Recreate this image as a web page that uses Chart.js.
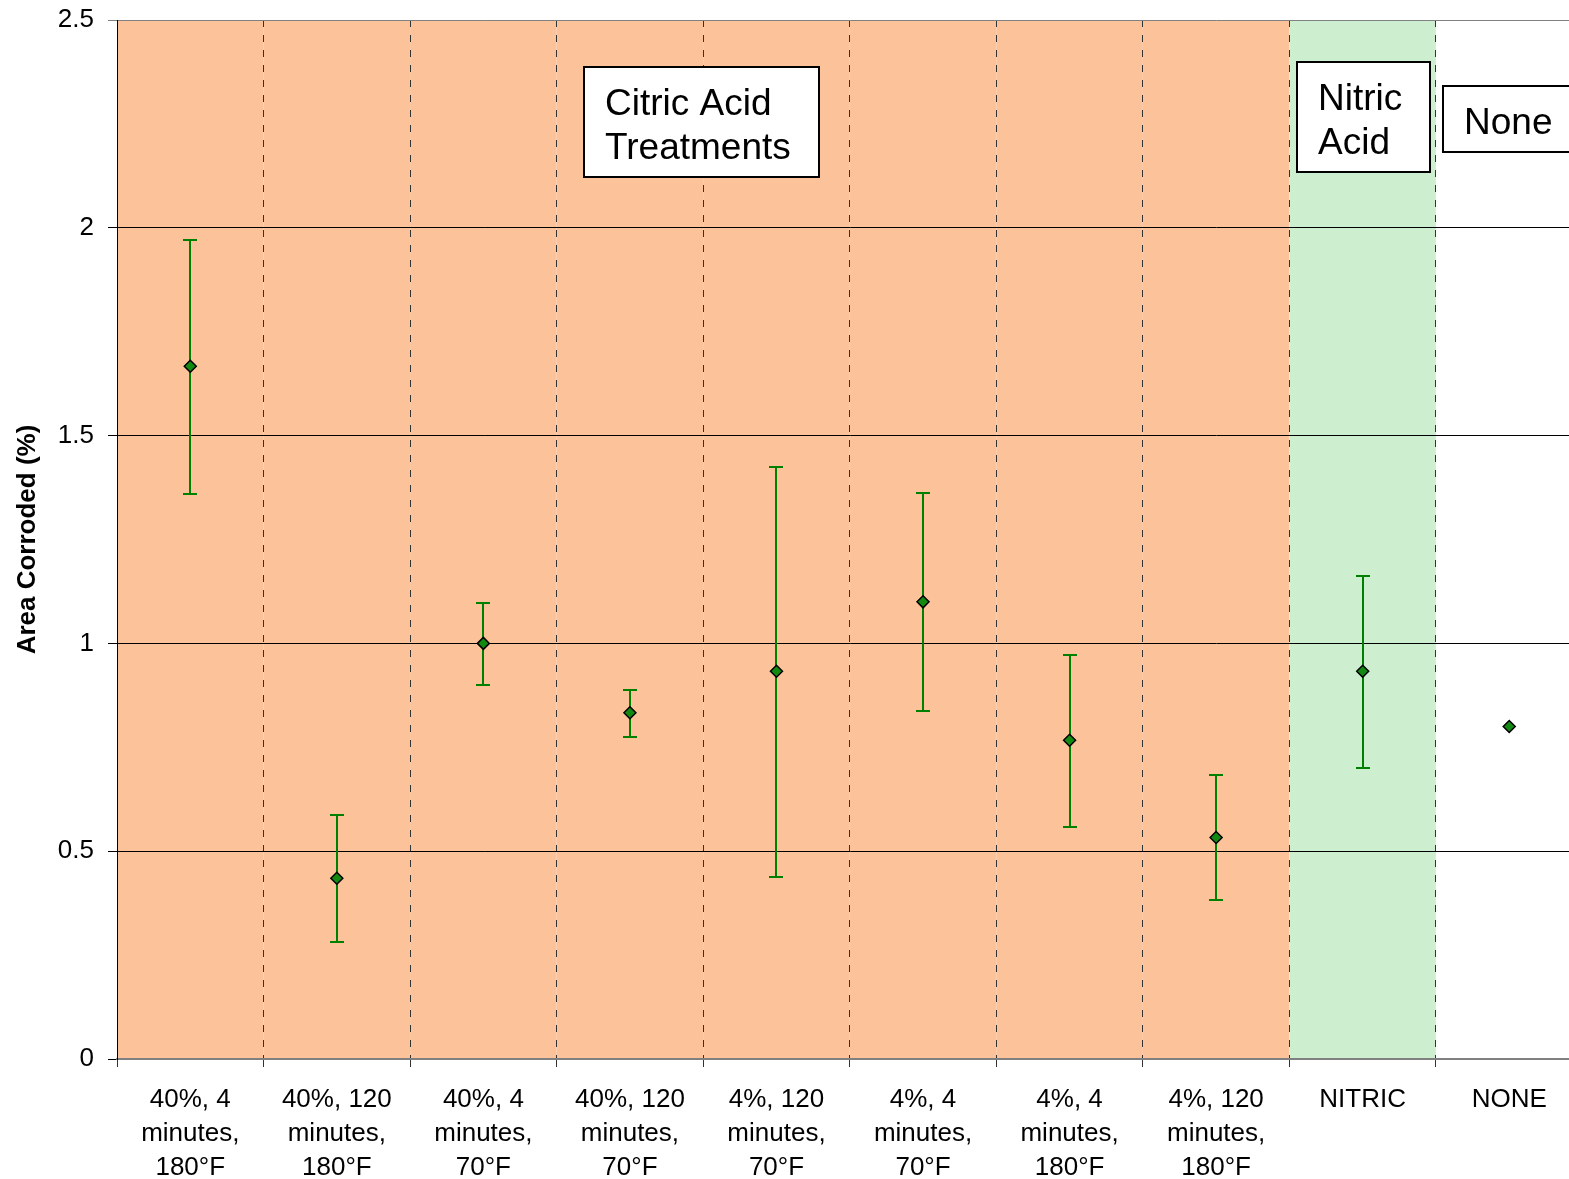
<!DOCTYPE html>
<html>
<head>
<meta charset="utf-8">
<script src="https://cdn.jsdelivr.net/npm/chart.js@4"></script>
<style>
  html, body { margin: 0; padding: 0; background: #fff; overflow: hidden; }
  #wrap { width: 1590px; height: 1179px; }
</style>
</head>
<body>
<div id="wrap"><canvas id="corrosionChart"></canvas></div>
<script>
// Area corroded per passivation treatment
const categories = [
  ['40%, 4', 'minutes,', '180°F'],
  ['40%, 120', 'minutes,', '180°F'],
  ['40%, 4', 'minutes,', '70°F'],
  ['40%, 120', 'minutes,', '70°F'],
  ['4%, 120', 'minutes,', '70°F'],
  ['4%, 4', 'minutes,', '70°F'],
  ['4%, 4', 'minutes,', '180°F'],
  ['4%, 120', 'minutes,', '180°F'],
  'NITRIC',
  'NONE'
];
const meanArea = [1.667, 0.435, 1.0, 0.833, 0.933, 1.1, 0.767, 0.533, 0.933, 0.8];
const errLow   = [1.36, 0.281, 0.9, 0.775, 0.438, 0.837, 0.558, 0.383, 0.70, null];
const errHigh  = [1.971, 0.587, 1.097, 0.888, 1.424, 1.362, 0.972, 0.683, 1.162, null];
const yTicks = [0, 0.5, 1, 1.5, 2, 2.5];

const bandColors = ['#fcc29a', '#fcc29a', '#fcc29a', '#fcc29a', '#fcc29a',
                    '#fcc29a', '#fcc29a', '#fcc29a', '#cdeecf', '#ffffff'];

// text boxes: left edge in category units, top in data units
const groupBoxes = [
  { lines: ['Citric Acid', 'Treatments'], x: 2.69, y: 2.387, h: 110 },
  { lines: ['Nitric', 'Acid'], x: 7.55, y: 2.399, h: 110 },
  { lines: ['None'], x: 8.55, y: 2.341, h: 66 }
];

const FONT = '"Liberation Sans", Arial, sans-serif';

const bandsPlugin = {
  id: 'bands',
  beforeDraw(chart) {
    const { ctx, chartArea, scales: { x } } = chart;
    const half = (x.getPixelForValue(1) - x.getPixelForValue(0)) / 2;
    ctx.save();
    bandColors.forEach((c, i) => {
      const cx = x.getPixelForValue(i);
      ctx.fillStyle = c;
      ctx.fillRect(cx - half, chartArea.top, half * 2, chartArea.bottom - chartArea.top);
    });
    ctx.restore();
  }
};

const errorBarsPlugin = {
  id: 'errorBars',
  beforeDatasetsDraw(chart) {
    const { ctx, scales: { x, y } } = chart;
    ctx.save();
    ctx.strokeStyle = '#008000';
    ctx.lineWidth = 2;
    meanArea.forEach((v, i) => {
      if (errLow[i] == null) return;
      const px = Math.round(x.getPixelForValue(i));
      const top = Math.round(y.getPixelForValue(errHigh[i]));
      const bot = Math.round(y.getPixelForValue(errLow[i]));
      ctx.beginPath();
      ctx.moveTo(px, top); ctx.lineTo(px, bot);
      ctx.moveTo(px - 7, top); ctx.lineTo(px + 7, top);
      ctx.moveTo(px - 7, bot); ctx.lineTo(px + 7, bot);
      ctx.stroke();
    });
    ctx.restore();
  }
};

const boxesPlugin = {
  id: 'boxes',
  afterDraw(chart) {
    const { ctx, scales: { x, y } } = chart;
    ctx.save();
    ctx.font = '37px ' + FONT;
    ctx.textBaseline = 'alphabetic';
    groupBoxes.forEach(b => {
      const left = Math.round(x.getPixelForValue(b.x));
      const top = Math.round(y.getPixelForValue(b.y));
      const w = Math.round(Math.max(...b.lines.map(t => ctx.measureText(t).width))) + 49;
      ctx.fillStyle = '#fff';
      ctx.fillRect(left, top, w, b.h);
      ctx.strokeStyle = '#000';
      ctx.lineWidth = 2;
      ctx.strokeRect(left, top, w, b.h);
      ctx.fillStyle = '#000';
      b.lines.forEach((t, k) => ctx.fillText(t, left + 21, top + 48 + k * 44));
    });
    ctx.restore();
  }
};

const ctx = document.getElementById('corrosionChart').getContext('2d');
new Chart(ctx, {
  type: 'line',
  data: {
    labels: categories,
    datasets: [{
      label: 'Area Corroded',
      data: meanArea,
      showLine: false,
      pointStyle: 'rectRot',
      pointRadius: 6,
      pointBackgroundColor: '#128a12',
      pointBorderColor: '#000',
      pointBorderWidth: 1.5
    }]
  },
  options: {
    responsive: true,
    maintainAspectRatio: false,
    animation: false,
    layout: { padding: { top: 20, left: 0, right: 0, bottom: 0 } },
    plugins: { legend: { display: false }, tooltip: { enabled: false } },
    scales: {
      x: {
        type: 'category',
        offset: true,
        grid: { offset: true, color: '#333', lineWidth: 1, tickLength: 8, tickColor: '#333' },
        border: { color: '#808080', width: 2, dash: [7, 8] },
        ticks: {
          color: '#000', padding: 16, maxRotation: 0, autoSkip: false,
          font: { family: FONT, size: 26, lineHeight: 1.3 }
        },
        afterFit(scale) { scale.height = 120; }
      },
      y: {
        min: 0,
        max: 2.5,
        afterBuildTicks(scale) { scale.ticks = yTicks.map(v => ({ value: v })); },
        grid: {
          color: ctx => ctx.tick && ctx.tick.value === 2.5 ? '#808080' : '#000',
          lineWidth: 1, tickLength: 9
        },
        border: { color: '#000', width: 1 },
        ticks: {
          color: '#000', padding: 14,
          callback: v => String(v),
          font: { family: FONT, size: 26 }
        },
        title: {
          display: true, text: 'Area Corroded (%)', color: '#000',
          font: { family: FONT, size: 26, weight: 'bold' },
          padding: { top: 12, bottom: 0 }
        },
        afterFit(scale) {
          scale.width = 117;
          scale.paddingTop = 0;
          scale.paddingBottom = 0;
        }
      }
    }
  },
  plugins: [bandsPlugin, errorBarsPlugin, boxesPlugin]
});
</script>
</body>
</html>
